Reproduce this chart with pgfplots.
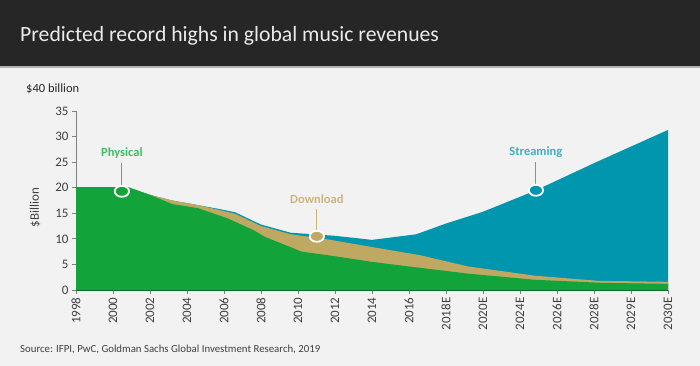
\documentclass[border=0pt]{standalone}
\usepackage{pgfplots}
\pgfplotsset{compat=1.18}
\usepackage{fontspec}
\setmainfont{Carlito}
\definecolor{bg}{HTML}{F2F2F2}
\definecolor{bar}{HTML}{262626}
\definecolor{phys}{HTML}{12A33A}
\definecolor{physdark}{HTML}{0B6E27}
\definecolor{down}{HTML}{BFA862}
\definecolor{stream}{HTML}{0097AE}
\definecolor{physlab}{HTML}{3DBE63}
\definecolor{downlab}{HTML}{CDB57A}
\definecolor{streamlab}{HTML}{3FAFC3}
\definecolor{axgray}{HTML}{7F7F7F}
\definecolor{txt}{HTML}{404040}
\begin{document}
\begin{tikzpicture}[x=1pt,y=1pt]
\path[use as bounding box] (0,0) rectangle (700,366);
\fill[bg] (0,0) rectangle (700,366);
\fill[bar] (0,298) rectangle (700,366);
\draw[gray!60, line width=1.5pt] (0,298.75) -- (700,298.75);
\node[anchor=west, text=white!92!black, font=\fontsize{21.7}{25}\selectfont, inner sep=0pt] at (20,330) {Predicted record highs in global music revenues};
\node[anchor=west, font=\fontsize{12.5}{14}\selectfont, inner sep=0pt, text=black!85] at (26,277) {\$40 billion};
\node[anchor=west, font=\fontsize{10.8}{12}\selectfont, text=txt, inner sep=0pt] at (20,17) {Source: IFPI, PwC, Goldman Sachs Global Investment Research, 2019};
\begin{axis}[
  at={(76pt,76pt)}, anchor=south west, scale only axis,
  width=592pt, height=179pt,
  xmin=0, xmax=16, ymin=0, ymax=35,
  axis x line=bottom, axis y line=left,
  axis line style={-},
  x axis line style={physdark, line width=1.2pt},
  y axis line style={axgray, line width=0.8pt},
  tick align=outside, major tick length=4pt,
  tick style={axgray, line width=0.8pt},
  xtick={0,...,16},
  xticklabels={1998,2000,2002,2004,2006,2008,2010,2012,2014,2016,2018E,2020E,2024E,2026E,2028E,2029E,2030E},
  ytick={0,5,...,35},
  /pgf/number format/assume math mode=true,
  x tick label style={rotate=90, anchor=east, font=\fontsize{13}{15}\selectfont, text=txt},
  y tick label style={font=\fontsize{13}{15}\selectfont, text=txt},
  ylabel={\$Billion},
  ylabel style={at={(axis description cs:-0.069,0.46)}, anchor=center, rotate=0, font=\fontsize{13}{15}\selectfont, text=txt},
  clip=false,
]
% total (streaming on top)
\addplot[draw=none, fill=stream] coordinates {
 (0,20.1) (1.4,20.1) (2,18.6) (2.6,17.5) (3.3,16.6) (3.9,15.8) (4.3,15.2) (5.0,12.8) (5.8,11.2) (7.0,10.6) (8.0,9.8) (9.2,10.9) (10.0,13.0) (11.0,15.3) (12.4,19.4) (14.0,24.8) (16,31.3)
} \closedcycle;
% physical + download
\addplot[draw=none, fill=down] coordinates {
 (0,20.1) (1.4,20.1) (2,18.6) (2.6,17.5) (3.3,16.6) (3.9,15.6) (4.3,14.9) (5.0,12.5) (5.8,10.9) (6.8,9.9) (8.0,8.4) (9.3,6.8) (10.6,4.6) (12.4,2.8) (14.1,1.8) (16,1.6)
} \closedcycle;
% physical
\addplot[draw=none, fill=phys] coordinates {
 (0,20.1) (1.4,20.1) (2,18.6) (2.6,16.8) (3.3,16.0) (4.1,14.0) (4.8,11.7) (5.1,10.4) (6.1,7.5) (7.0,6.6) (8.0,5.5) (9.0,4.6) (10.6,3.2) (12.4,2.0) (14.2,1.4) (16,1.2)
} \closedcycle;
% leader lines
\draw[physlab, line width=0.9pt] (axis cs:1.24,20.5) -- (axis cs:1.24,24.8);
\draw[downlab, line width=0.9pt] (axis cs:6.51,11.8) -- (axis cs:6.51,15.8);
\draw[streamlab, line width=0.9pt] (axis cs:12.43,20.8) -- (axis cs:12.43,25.0);
% markers
\addplot[only marks, mark=*, mark size=5.5pt, mark options={fill=phys, draw=white, line width=1.8pt, xscale=1.3}] coordinates {(1.24,19.3)};
\addplot[only marks, mark=*, mark size=5.5pt, mark options={fill=down, draw=white, line width=1.8pt, xscale=1.3}] coordinates {(6.51,10.5)};
\addplot[only marks, mark=*, mark size=5.5pt, mark options={fill=stream, draw=white, line width=1.8pt, xscale=1.3}] coordinates {(12.43,19.5)};
% labels
\node[text=physlab, font=\bfseries\fontsize{12.5}{14}\selectfont] at (axis cs:1.24,26.8) {Physical};
\node[text=downlab, font=\bfseries\fontsize{12.5}{14}\selectfont] at (axis cs:6.51,17.8) {Download};
\node[text=streamlab, font=\bfseries\fontsize{12.5}{14}\selectfont] at (axis cs:12.43,27.0) {Streaming};
\end{axis}
\end{tikzpicture}
\end{document}
